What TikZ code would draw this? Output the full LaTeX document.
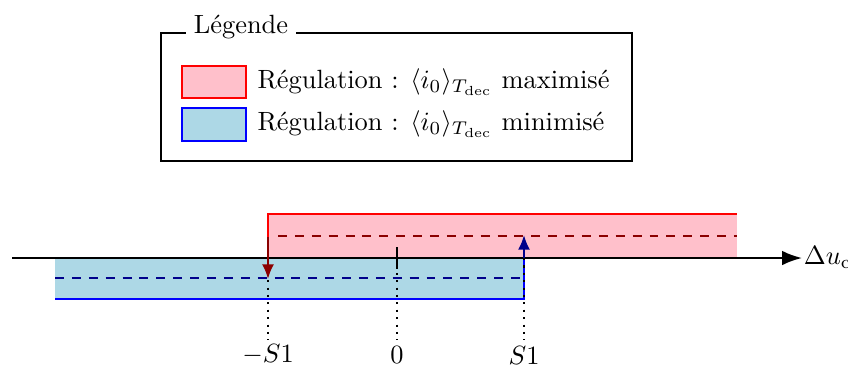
\documentclass[tikz,border=0pt]{standalone}
\usepackage{fontspec}
\usetikzlibrary{arrows.meta}
\definecolor{pinkfill}{RGB}{255,192,203}
\definecolor{bluefill}{RGB}{173,216,230}
\definecolor{dred}{RGB}{139,0,0}
\definecolor{dblue}{RGB}{0,0,139}
\begin{document}
\begin{tikzpicture}[x=0.379pt,y=-0.379pt,
  border/.style={line width=0.75pt},
  dashline/.style={line width=0.7pt,dash pattern=on 3.4pt off 3pt},
  dotline/.style={dotted,line width=0.8pt},
  smallarrow/.style={line width=0.8pt,-{Latex[length=5.5pt,width=4.5pt]}},
  lbl/.style={inner sep=1pt}]
\useasboundingbox (0,0) rectangle (848,365);
% legend
\draw[line width=0.8pt] (161,33) rectangle (632,161);
\node[fill=white,inner sep=3pt] (title) at (241,27) {Légende};
\draw[red,fill=pinkfill,border] (182,66) rectangle (246,98);
\draw[blue,fill=bluefill,border] (182,108) rectangle (246,141);
\node[anchor=west,inner sep=0pt] (l1) at (257,82) {Régulation : $\langle i_0\rangle_{T_\mathrm{dec}}$ maximisé};
\node[anchor=west,inner sep=0pt] (l2) at (257,124) {Régulation : $\langle i_0\rangle_{T_\mathrm{dec}}$ minimisé};
% regions
\fill[pinkfill] (268,214) rectangle (737,258);
\fill[bluefill] (55,258) rectangle (524,299);
\draw[red,border] (268,258) -- (268,214) -- (737,214);
\draw[blue,border] (55,299) -- (524,299) -- (524,258);
\draw[dred,dashline] (278,236) -- (737,236);
\draw[dblue,dashline] (55,278) -- (520,278);
% axis
\coordinate (a0) at (12,258);
\node[anchor=west,inner sep=0.5pt] (du) at (802,258) {$\Delta u_\mathrm{c}$};
\draw[line width=0.8pt,-{Latex[length=7.5pt,width=5.5pt]}] (a0) -- (du.west);
\coordinate (m) at (268,258);
\coordinate (z) at (397,258);
\coordinate (p) at (524,258);
\draw[line width=0.8pt] (268,237) -- (m);
\draw[line width=0.8pt] (397,247) -- (397,269);
% labels
\node[lbl] (lm) at (268,355) {$-S1$};
\node[lbl] (lz) at (397,355) {$0$};
\node[lbl] (lp) at (524,355) {$S1$};
\draw[dotline] (m) -- (268,340);
\draw[dotline] (z) -- (397,340);
\draw[dotline] (p) -- (524,340);
% arrows
\coordinate (rt) at (268,237);
\coordinate (rb) at (268,279);
\draw[dred,smallarrow] (rt) -- (rb);
\coordinate (bt) at (524,235);
\draw[dblue,smallarrow] (p) -- (bt);
\end{tikzpicture}
\end{document}
